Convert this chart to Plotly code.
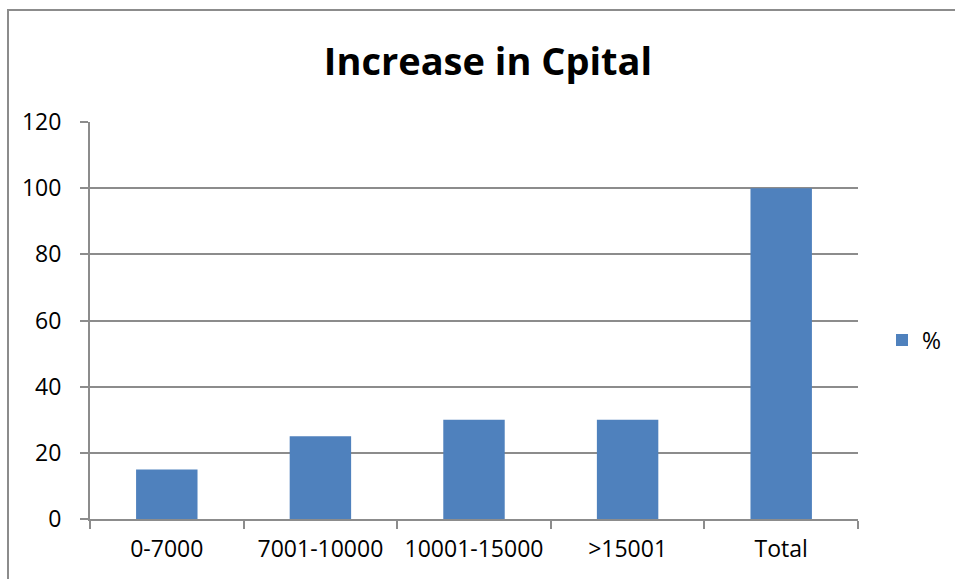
import plotly.graph_objects as go

# Capital increase by band, in percent
categories = ["0-7000", "7001-10000", "10001-15000", ">15001", "Total"]
percent = [15, 25, 30, 30, 100]
y_ticks = [0, 20, 40, 60, 80, 100, 120]

BAR_BLUE = "#4F81BD"
GRID = "#8C8C8C"
FONT = "Open Sans"

W, H = 955, 579
L, R, T, B = 90, 97, 122, 60
PW, PH = W - L - R, H - T - B

fig = go.Figure(
    go.Bar(
        x=categories,
        y=percent,
        name="%",
        marker=dict(color=BAR_BLUE, line=dict(width=0)),
    )
)

fig.update_layout(
    width=W,
    height=H,
    margin=dict(l=L, r=R, t=T, b=B, autoexpand=False),
    paper_bgcolor="white",
    plot_bgcolor="white",
    bargap=0.6,
    font=dict(family=FONT, size=23, color="black"),
    title=dict(
        text="<b>Increase in Cpital</b>",
        x=488 / W,
        xanchor="center",
        y=1 - 62 / H,
        yanchor="middle",
        font=dict(family=FONT, size=38, color="black"),
    ),
    showlegend=True,
    legend=dict(
        x=(882 - L) / PW,
        y=(H - B - 340) / PH,
        xanchor="left",
        yanchor="middle",
        font=dict(family=FONT, size=23),
        bgcolor="rgba(0,0,0,0)",
        itemwidth=30,
    ),
    xaxis=dict(
        type="category",
        showline=True,
        linecolor=GRID,
        linewidth=2,
        ticks="outside",
        tickson="boundaries",
        ticklen=8,
        tickwidth=2,
        tickcolor=GRID,
        showgrid=False,
        ticklabelstandoff=8,
        tickfont=dict(family=FONT, size=23),
    ),
    yaxis=dict(
        range=[0, 120],
        tickvals=y_ticks,
        showline=True,
        linecolor=GRID,
        linewidth=2,
        ticks="outside",
        ticklen=8,
        tickwidth=2,
        tickcolor=GRID,
        showgrid=True,
        gridcolor=GRID,
        gridwidth=2,
        zeroline=False,
        ticklabelstandoff=14,
        tickfont=dict(family=FONT, size=23),
    ),
)

# Chart-area frame: only its left and top edges fall inside the page
fig.add_shape(type="rect", xref="paper", yref="paper", layer="below",
              x0=(8 - L) / PW, x1=(W + 40 - L) / PW,
              y0=(H - B - 10) / PH, y1=-(B + 40) / PH,
              line=dict(color=GRID, width=2), fillcolor="rgba(0,0,0,0)")

fig.write_html("out.html", config={"displayModeBar": False})
